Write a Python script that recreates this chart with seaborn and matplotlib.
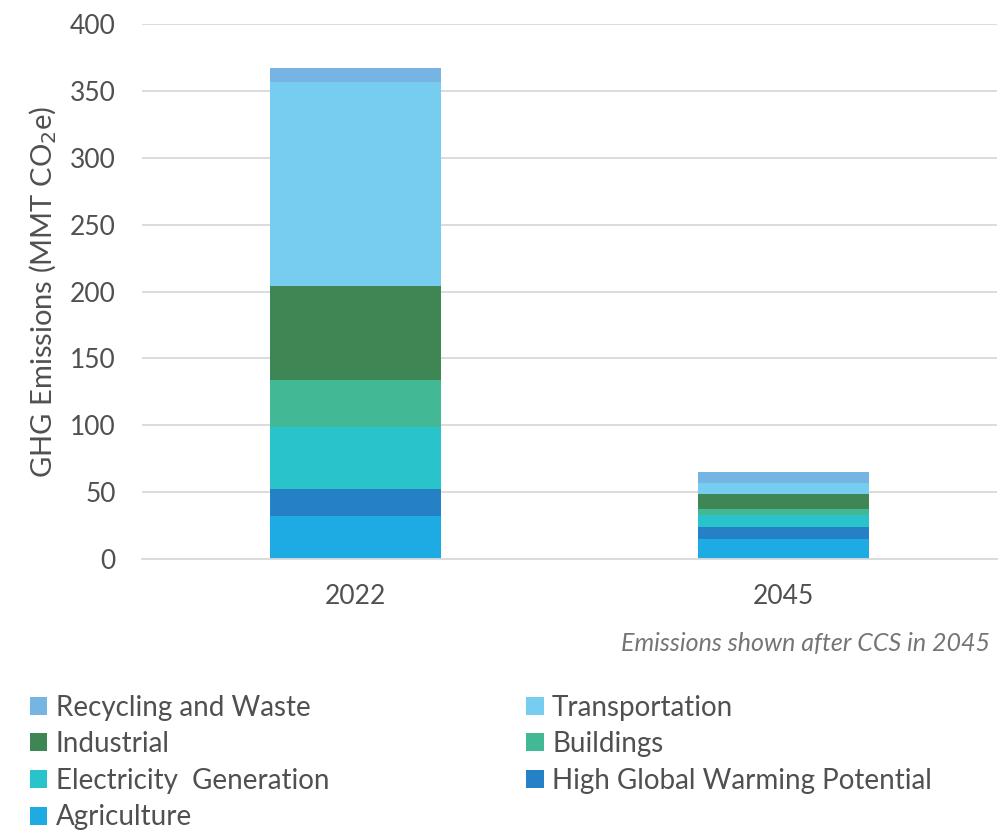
import numpy as np
import pandas as pd
import seaborn as sns
import matplotlib.pyplot as plt
from matplotlib.patches import Patch

years = ["2022", "2045"]
sectors = ["Agriculture", "High Global Warming Potential", "Electricity  Generation",
           "Buildings", "Industrial", "Transportation", "Recycling and Waste"]
agriculture = [32, 15]
hgwp = [20, 9]
electricity = [47, 9]
buildings = [34.5, 4.5]
industrial = [71, 11]
transportation = [152, 8.2]
recycling = [10.5, 8.3]
colors = ["#1EAAE2", "#2580C5", "#28C3CB", "#42B994", "#3E8754", "#77CDF0", "#75B4E3"]

values = [agriculture, hgwp, electricity, buildings, industrial, transportation, recycling]

sns.set_theme(style="white")
plt.rcParams['font.family'] = ['Lato', 'DejaVu Sans']
txt = "#505050"

fig = plt.figure(figsize=(10.07, 8.33), dpi=100)
ax = fig.add_axes([0.141, 0.329, 0.849, 0.642])

cum = np.cumsum(np.array(values), axis=0)
for i in reversed(range(len(sectors))):
    df = pd.DataFrame({"year": years, "value": cum[i]})
    sns.barplot(data=df, x="year", y="value", color=colors[i], width=0.4,
                saturation=1, ax=ax, zorder=2, linewidth=0, edgecolor="none")

ax.set_ylim(0, 400)
ax.set_xlim(-0.5, 1.5)
ax.set_yticks(range(0, 401, 50))
ax.yaxis.grid(True, color="#d9d9d9", linewidth=1.3, zorder=0)
ax.set_axisbelow(True)
for s in ["top", "right", "left"]:
    ax.spines[s].set_visible(False)
ax.spines["bottom"].set_color("#d9d9d9")
ax.spines["bottom"].set_linewidth(1.3)
ax.tick_params(axis="y", length=0, labelsize=19, labelcolor=txt, pad=19)
ax.tick_params(axis="x", length=0, labelsize=19, labelcolor=txt, pad=18)
ax.set_xlabel("")
ax.set_ylabel("GHG Emissions (MMT CO$_2$e)", fontsize=21, color=txt, labelpad=8)
ax.set_xticks([-0.5, 0.5, 1.5], minor=True)
ax.tick_params(axis="x", which="minor", length=8, color="#d9d9d9", width=1.3, direction="out")

fig.text(0.983, 0.227, "Emissions shown after CCS in 2045", ha="right", va="center",
         fontsize=18, style="italic", color="#757575")

handles = {s: Patch(facecolor=c, edgecolor="none") for s, c in zip(sectors, colors)}
order = ["Recycling and Waste", "Industrial", "Electricity  Generation", "Agriculture",
         "Transportation", "Buildings", "High Global Warming Potential"]
leg = fig.legend([handles[o] for o in order], order, ncol=2, loc="upper left",
                 bbox_to_anchor=(0.03, 0.166), frameon=False, fontsize=20,
                 handlelength=0.62, handleheight=0.62, handletextpad=0.3,
                 labelspacing=0.38, columnspacing=7.1, borderaxespad=0, borderpad=0)
for t in leg.get_texts():
    t.set_color(txt)

fig.savefig("out.png", dpi=100)
